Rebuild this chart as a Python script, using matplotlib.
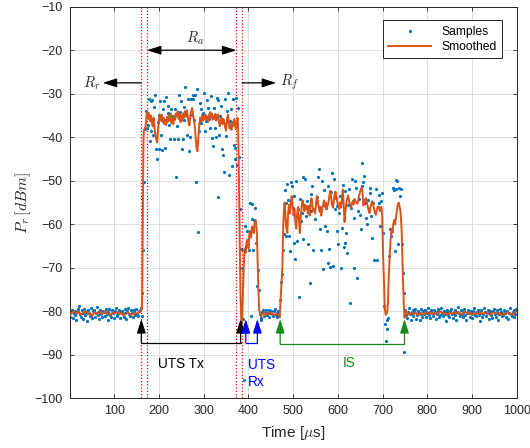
import numpy as np
import matplotlib
matplotlib.use("Agg")
import matplotlib.pyplot as plt

plt.rcParams['font.family'] = ['Liberation Sans', 'DejaVu Sans']
plt.rcParams['mathtext.fontset'] = 'cm'

# ---------------- data: raw samples (2 us grid, 1..999 us) ----------------
sample_times = np.arange(1, 1000, 2)

samples_floor1 = [
    -81.2, -80.1, -79.6, -81.5, -80.3, -79.9, -80.8, -81.9, -80.2, -79.4,
    -78.7, -80.6, -81.3, -79.8, -80.4, -81.7, -79.5, -80.9, -80.1, -82.2,
    -79.7, -80.5, -81.1, -79.3, -80.8, -81.6, -80.0, -79.6, -81.2, -80.4,
    -79.1, -80.9, -81.8, -80.3, -79.7, -80.6, -81.4, -79.9, -80.2, -81.0,
    -79.5, -80.7, -82.0, -80.1, -79.4, -80.8, -81.3, -79.8, -80.5, -81.6,
    -80.0, -79.2, -80.9, -81.1, -80.3, -79.6, -81.5, -80.2, -79.9, -80.7,
    -81.2, -79.5, -80.4, -81.8, -80.0, -79.3, -80.6, -81.0, -79.8, -80.5,
    -81.4, -79.7, -80.2, -80.9, -79.4, -80.6, -81.1, -80.0, -79.6, -79.2]

samples_tx = [
    -81.1, -75.7, -65.8, -50.3, -38.2,
    -34.0, -37.9, -37.1, -31.3, -40.9,
    -31.7, -38.6, -31.5, -39.4, -33.0,
    -30.4, -42.8, -45.1, -36.5, -42.8,
    -35.0, -31.6, -39.4, -43.0, -33.6,
    -31.6, -42.4, -30.7, -36.0, -34.5,
    -32.9, -37.2, -40.5, -33.6, -36.2,
    -35.2, -40.5, -33.6, -49.1, -34.8,
    -37.5, -40.5, -30.4, -34.3, -31.7,
    -42.8, -40.5, -36.0, -33.0, -28.4,
    -34.4, -39.5, -31.3, -43.2, -39.9,
    -31.3, -34.8, -30.4, -31.3, -36.0,
    -30.2, -50.2, -28.8, -61.7, -38.5,
    -32.1, -33.6, -36.8, -35.0, -34.4,
    -29.8, -38.5, -36.2, -31.5, -33.3,
    -35.9, -37.9, -34.6, -30.6, -40.1,
    -41.9, -33.3, -37.9, -40.0, -31.0,
    -31.4, -53.7, -39.4, -35.2, -32.9,
    -42.8, -44.1, -48.0, -31.3, -39.8,
    -33.9, -36.5, -29.8, -48.6, -36.2,
    -33.6, -46.7, -31.3, -41.7, -42.4,
    -45.0, -31.0, -46.3]

samples_rx = [
    -33.3, -44.5, -56.6, -65.6, -70.0,
    -81.7, -95.8, -66.0, -60.4, -65.0,
    -61.6, -64.6, -65.8, -55.0, -81.0,
    -58.9, -55.4, -66.0, -59.0, -56.2,
    -64.2, -74.2, -70.5, -75.0, -80.7,
    -81.9, -81.5]

samples_floor2 = [
    -80.2, -79.6, -81.0, -80.5, -79.8, -80.9, -80.3, -79.7, -81.2, -80.4,
    -79.9, -80.6, -81.1, -80.0, -79.5, -80.8, -80.3, -81.4, -79.9, -81.0]

samples_is = [
    -77.3, -73.2, -71.5, -66.0, -62.3, -52.2, -55.0, -62.7, -50.7, -54.4,
    -62.7, -66.2, -50.3, -51.2, -56.2, -53.4, -64.2, -67.9, -50.1, -63.8,
    -56.6, -76.8, -54.1, -59.3, -57.5, -49.1, -63.3, -56.2, -49.6, -58.0,
    -54.6, -64.6, -55.7, -73.4, -57.0, -53.0, -51.2, -65.8, -56.6, -58.9,
    -55.0, -53.8, -49.1, -47.2, -61.1, -57.0, -65.8, -50.1, -70.3, -52.1,
    -60.4, -56.2, -61.5, -68.8, -51.2, -65.6, -69.9, -52.6, -48.2, -69.5,
    -49.5, -56.6, -54.0, -61.5, -55.9, -64.6, -57.5, -53.5, -70.0, -60.8,
    -51.0, -65.3, -64.2, -52.4, -61.9, -66.5, -55.5, -52.0, -78.0, -56.2,
    -49.6, -54.6, -58.5, -70.1, -50.0, -51.6, -72.4, -57.0, -54.2, -57.8,
    -61.2, -45.9, -51.1, -50.3, -49.0, -55.0, -58.5, -60.0, -54.5, -56.5,
    -51.6, -52.9, -58.1, -63.1, -55.0, -68.2, -57.2, -51.9, -68.1, -56.0,
    -53.2, -55.0, -60.5, -54.7, -52.8, -62.0]

samples_dip = [
    -78.8, -83.0, -86.8, -84.0, -81.9, -81.5, -67.3, -61.2, -62.8, -61.3,
    -51.7, -52.1, -66.2, -52.0, -49.8, -50.1, -64.6, -51.6, -53.5, -52.0,
    -64.6, -71.1, -75.7, -89.4]

samples_floor3 = [
    -79.6, -80.8, -81.5, -80.1, -79.3, -80.6, -82.1, -80.4, -79.8, -81.0,
    -80.2, -79.5, -81.7, -80.9, -79.9, -80.3, -82.0, -80.6, -79.4, -81.2,
    -80.0, -80.7, -79.7, -81.4, -80.5, -79.2, -80.9, -81.6, -80.1, -79.8,
    -80.4, -81.1, -79.6, -80.2, -81.8, -80.6, -79.5, -80.0, -81.3, -80.8,
    -79.3, -80.5, -81.0, -79.9, -80.7, -82.3, -80.2, -79.6, -80.9, -81.2,
    -80.0, -79.4, -80.6, -81.5, -80.3, -79.7, -80.8, -81.9, -80.1, -79.1,
    -80.4, -81.0, -79.8, -80.6, -81.4, -80.2, -79.5, -80.9, -82.0, -80.3,
    -79.7, -80.5, -81.2, -79.9, -80.7, -81.6, -80.0, -79.3, -80.8, -81.1,
    -80.2, -79.6, -80.9, -82.2, -80.4, -79.8, -81.3, -80.6, -79.2, -80.1,
    -81.0, -80.5, -79.7, -81.7, -80.3, -79.9, -80.8, -81.5, -80.0, -79.5,
    -80.6, -81.2, -79.8, -80.4, -82.1, -80.7, -79.4, -80.2, -81.0, -80.9,
    -79.6, -80.3, -81.4, -80.1, -79.9, -81.8, -80.5, -79.3, -80.7, -81.1,
    -80.2, -79.7, -81.3, -80.6, -79.5]

# ---------------- data: smoothed curve ----------------
smooth_floor1_t = list(range(1, 162, 5))
smooth_floor1 = [
    -80.9, -80.3, -79.9, -80.6, -80.1, -80.8, -80.4, -79.9, -80.7, -80.5,
    -81.0, -80.2, -80.6, -80.0, -80.7, -80.4, -79.9, -80.6, -80.8, -80.3,
    -80.5, -80.1, -80.7, -80.4, -80.9, -80.6, -80.2, -80.8, -80.7, -80.3,
    -80.6, -80.0, -79.6]

smooth_tx_t = ([162, 163, 164, 165, 166] + list(range(168, 377, 2))
               + list(range(377, 389)) + list(range(390, 419, 2))
               + list(range(419, 425)) + [426, 428])
smooth_tx = [
    -79.0, -70.0, -55.0, -42.0, -38.5,
    -38.0, -37.5, -35.0, -34.2, -35.8, -34.5, -36.3, -35.0, -36.8, -37.5,
    -35.5, -38.0, -39.5, -40.5, -41.2, -38.0, -35.5, -35.0, -36.2, -34.8,
    -36.5, -35.5, -37.0, -36.0, -37.2, -35.3, -36.5, -35.0, -36.2, -34.5,
    -36.8, -35.6, -37.0, -35.0, -36.0, -34.5, -35.2, -34.0, -35.8, -34.6,
    -36.5, -35.0, -36.2, -34.5, -35.5, -34.0, -35.3, -33.8, -35.0, -36.5,
    -37.3, -35.0, -34.0, -33.3, -34.5, -36.0, -37.5, -40.0, -42.5, -43.2,
    -40.0, -37.0, -35.5, -36.5, -35.0, -36.2, -35.3, -35.8, -34.8, -36.0,
    -35.2, -36.5, -35.0, -34.2, -35.5, -34.5, -36.0, -35.2, -35.8, -34.6,
    -36.2, -35.0, -34.8, -36.5, -37.5, -36.2, -35.5, -37.0, -35.8, -36.5,
    -37.8, -38.5, -36.0, -34.8, -36.5, -38.0, -37.0, -38.3, -36.5, -37.5,
    -35.8, -37.0, -38.2, -36.0, -35.5,
    -38.0, -44.0, -52.0, -60.0, -68.0, -75.0, -79.0, -82.5, -83.0, -82.0,
    -78.0, -74.5,
    -68.5, -65.5, -66.5, -64.0, -63.5, -65.5, -62.5, -61.5, -63.0, -60.5,
    -61.0, -62.0, -59.5, -59.0, -60.5,
    -62.5, -66.0, -70.0, -74.0, -77.0, -79.5,
    -80.6, -81.2]

smooth_floor2_t = list(range(430, 471, 4))
smooth_floor2 = [-80.8, -80.4, -80.9, -80.3, -80.7, -80.2, -80.6, -81.0,
                 -80.5, -80.8, -81.3]

smooth_is_t = ([472, 474, 476, 477, 478] + list(range(479, 700, 2))
               + list(range(700, 706)) + [707, 709, 711, 712]
               + list(range(714, 741, 2)) + list(range(742, 751)) + [752])
smooth_is = [
    -77.0, -73.5, -69.5, -64.0, -60.0,
    -57.5, -55.0, -58.5, -61.0, -62.0, -57.0, -55.5, -57.5, -54.5, -53.5,
    -56.0, -58.0, -56.5, -59.5, -61.0, -57.5, -56.0, -59.0, -62.0, -58.5,
    -56.0, -54.5, -55.5, -57.0, -55.5, -56.5, -55.8, -57.5, -56.0, -58.0,
    -55.5, -54.0, -55.5, -57.0, -56.5, -57.5, -55.5, -53.5, -54.5, -56.0,
    -57.0, -56.0, -58.0, -56.5, -55.5, -54.5, -56.0, -55.0, -56.5, -55.8,
    -55.0, -53.5, -52.3, -54.0, -55.5, -56.2, -54.5, -53.0, -52.5, -54.0,
    -55.0, -56.0, -56.5, -55.0, -56.2, -54.5, -52.0, -55.5, -59.5, -57.0,
    -55.0, -54.0, -53.4, -54.5, -55.5, -56.2, -55.5, -54.8, -55.5, -54.2,
    -54.5, -55.0, -55.3, -55.0, -53.5, -52.8, -52.0, -51.6, -52.5, -55.7,
    -55.0, -54.2, -54.0, -55.0, -56.0, -57.0, -57.4, -56.0, -55.2, -54.7,
    -55.5, -56.5, -57.2, -57.8, -56.8, -56.0, -55.9, -56.5, -57.0, -56.0,
    -57.4,
    -62.0, -66.5, -70.0, -72.6, -76.5, -79.5,
    -80.8, -80.5, -79.5, -78.0,
    -72.0, -67.0, -63.5, -61.0, -62.0, -60.0, -59.0, -60.0, -58.5, -57.0,
    -55.5, -55.0, -55.8, -57.0,
    -60.0, -62.5, -66.0, -70.0, -74.0, -77.0, -79.5, -81.5, -81.0,
    -80.0]

smooth_floor3_t = list(range(755, 1001, 5))
smooth_floor3 = [
    -80.3, -80.8, -80.2, -80.6, -80.4, -81.0, -80.3, -80.7, -80.5, -80.1,
    -80.6, -80.3, -80.8, -80.2, -80.5, -80.0, -80.6, -80.4, -80.8, -80.3,
    -80.6, -80.1, -80.5, -80.2, -80.7, -80.4, -80.1, -80.6, -80.3, -80.8,
    -80.5, -80.2, -80.7, -80.3, -80.6, -80.1, -80.5, -80.8, -80.4, -80.2,
    -80.6, -80.3, -80.9, -80.4, -80.7, -80.2, -80.5, -80.8, -80.3, -80.0]

# ---------------- annotation values ----------------
region_lines = [160, 173, 373, 385.5]
x_ticks = [100, 200, 300, 400, 500, 600, 700, 800, 900, 1000]
y_ticks = [-100, -90, -80, -70, -60, -50, -40, -30, -20, -10]

sample_values = np.array(samples_floor1 + samples_tx + samples_rx + samples_floor2
                         + samples_is + samples_dip + samples_floor3)
smooth_times = np.array(smooth_floor1_t + smooth_tx_t + smooth_floor2_t
                        + smooth_is_t + smooth_floor3_t)
smooth_values = np.array(smooth_floor1 + smooth_tx + smooth_floor2
                         + smooth_is + smooth_floor3)

# ---------------- figure ----------------
fig = plt.figure(figsize=(5.30, 4.48), dpi=100)
ax = fig.add_axes([0.1313, 0.1109, 0.8436, 0.8741])

dark = '#262626'
ax.set_xlim(0, 1000)
ax.set_ylim(-100, -10)
ax.set_xticks(x_ticks)
ax.set_yticks(y_ticks)
ax.grid(True, color='#dedede', linewidth=0.7)
ax.set_axisbelow(True)
ax.tick_params(direction='in', length=3, width=0.6, top=True, right=True,
               labelsize=9, colors=dark, pad=5)
for s in ax.spines.values():
    s.set_color(dark)
    s.set_linewidth(0.7)

for xv in region_lines:
    ax.axvline(xv, color='red', linestyle=(0, (1, 1.6)), linewidth=0.9, zorder=1.5)

ax.plot(sample_times, sample_values, linestyle='none', marker='o', markersize=2.3,
        markeredgewidth=0, color='#0072BD', label='Samples', zorder=2)
ax.plot(smooth_times, smooth_values, color='#D95319', linewidth=1.4,
        label='Smoothed', zorder=3)

def arrow(x0, y0, x1, y1, color='k', style='-|>'):
    ax.annotate('', xy=(x1, y1), xytext=(x0, y0),
                arrowprops=dict(arrowstyle=style + ',head_length=0.85,head_width=0.27',
                                color=color, lw=0.9, mutation_scale=10,
                                shrinkA=0, shrinkB=0), zorder=5)

# top region arrows
arrow(region_lines[1], -20, region_lines[2], -20, style='<|-|>')
arrow(region_lines[0], -27.5, 74, -27.5)
arrow(region_lines[3], -27.5, 462, -27.5)
ax.text(280, -17.2, r'$R_a$', fontsize=10.5, ha='center', va='center', color=dark)
ax.text(50, -27.5, r'$R_r$', fontsize=10.5, ha='center', va='center', color=dark)
ax.text(492, -27.3, r'$R_f$', fontsize=10.5, ha='center', va='center', color=dark)

# bottom brackets
def bracket(xa, xb, ybase, ytip, color):
    ax.plot([xa, xb], [ybase, ybase], color=color, linewidth=0.9, zorder=5)
    arrow(xa, ybase, xa, ytip, color=color)
    arrow(xb, ybase, xb, ytip, color=color)

bracket(160.5, 382.5, -87.2, -81.8, 'black')
bracket(394, 420, -87.2, -81.8, '#0000ff')
bracket(471, 749, -87.5, -81.8, '#1a8a1a')
ax.text(250, -92.2, 'UTS Tx', fontsize=9.8, ha='center', va='center', color='black')
ax.text(398, -94.3, 'UTS\nRx', fontsize=9.8, ha='left', va='center',
        color='#0000ff', linespacing=1.3)
ax.text(626, -91.8, 'IS', fontsize=9.8, ha='center', va='center', color='#1a8a1a')

ax.set_xlabel(r'Time [$\mu$s]', fontsize=11, color=dark, labelpad=5)
ax.set_ylabel(r'$P_r\,[dBm]$', fontsize=11.5, color=dark, labelpad=1)

leg = ax.legend(loc='upper right', bbox_to_anchor=(0.967, 0.965), borderaxespad=0,
                fontsize=8.7, frameon=True, fancybox=False, framealpha=1,
                edgecolor=dark, handlelength=3.6, borderpad=0.45,
                labelspacing=0.25, markerscale=1.0)
leg.get_frame().set_linewidth(0.7)

fig.savefig('out.png', dpi=100)
